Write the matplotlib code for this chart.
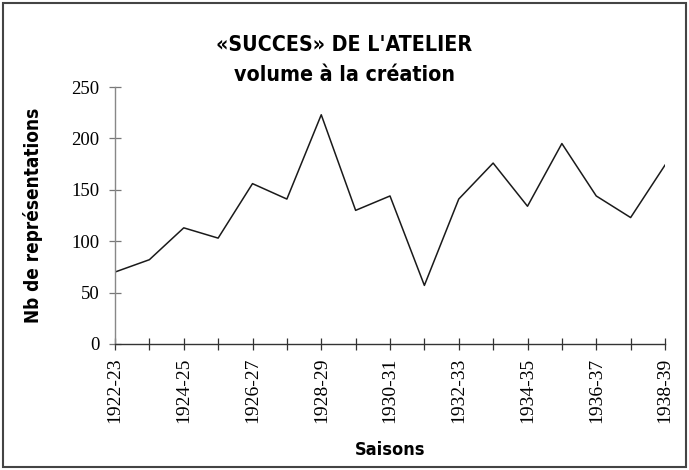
import matplotlib
matplotlib.use("Agg")
import matplotlib.pyplot as plt
from matplotlib import font_manager
from matplotlib.patches import Rectangle

seasons = ["1922-23", "1923-24", "1924-25", "1925-26", "1926-27", "1927-28",
           "1928-29", "1929-30", "1930-31", "1931-32", "1932-33", "1933-34",
           "1934-35", "1935-36", "1936-37", "1937-38", "1938-39"]
representations = [70, 82, 113, 103, 156, 141, 223, 130, 144, 57, 141,
                    176, 134, 195, 144, 123, 174]
yticks = [0, 50, 100, 150, 200, 250]

names = {f.name for f in font_manager.fontManager.ttflist}
if "Liberation Sans Narrow" in names:
    sans = "Liberation Sans Narrow"
    stretch = "normal"
else:
    sans = "DejaVu Sans"
    stretch = "condensed"
serif = "Liberation Serif" if "Liberation Serif" in names else "DejaVu Serif"

fig = plt.figure(figsize=(6.89, 4.70), dpi=100)
ax = fig.add_axes([115/689, 1-344/470, 550/689, 257/470])

x = list(range(len(seasons)))
ax.plot(x, representations, color="#1a1a1a", linewidth=1.1)

ax.set_xlim(0, len(seasons)-1)
ax.set_ylim(0, 250)
ax.set_xticks(x)
ax.set_xticklabels([s if i % 2 == 0 else "" for i, s in enumerate(seasons)],
                   rotation=90, fontfamily=serif, fontsize=14)
ax.set_yticks(yticks)
ax.set_yticklabels([str(v) for v in yticks], fontfamily=serif, fontsize=13.5)
ax.tick_params(axis="x", direction="inout", length=8.6, width=0.9, color="#333333", pad=5.5)
ax.tick_params(axis="y", direction="inout", length=8.6, width=0.9, color="#777777", pad=7)

for s in ["top", "right"]:
    ax.spines[s].set_visible(False)
ax.spines["left"].set_color("#888888")
ax.spines["left"].set_linewidth(1.0)
ax.spines["bottom"].set_color("#333333")
ax.spines["bottom"].set_linewidth(1.0)

ax.set_ylabel("Nb de représentations", fontfamily=sans, fontstretch=stretch,
              fontweight="bold", fontsize=13.6)
ax.yaxis.set_label_coords(-(115-43)/550, 0.5)
ax.set_xlabel("Saisons", fontfamily=sans, fontstretch=stretch,
              fontweight="bold", fontsize=13)
ax.xaxis.set_label_coords(0.5, -(441-344)/257)

fig.text(0.5, 1-45/470, "«SUCCES» DE L'ATELIER", ha="center", va="center",
         fontfamily=sans, fontstretch=stretch, fontweight="bold", fontsize=15.3)
fig.text(0.5, 1-75/470, "volume à la création", ha="center", va="center",
         fontfamily=sans, fontstretch=stretch, fontweight="bold", fontsize=15.3)

fig.patches.append(Rectangle((3/689, 3/470), 683/689, 464/470, transform=fig.transFigure,
                             fill=False, edgecolor="#444444", linewidth=1.5))

fig.savefig("out.png", dpi=100)
